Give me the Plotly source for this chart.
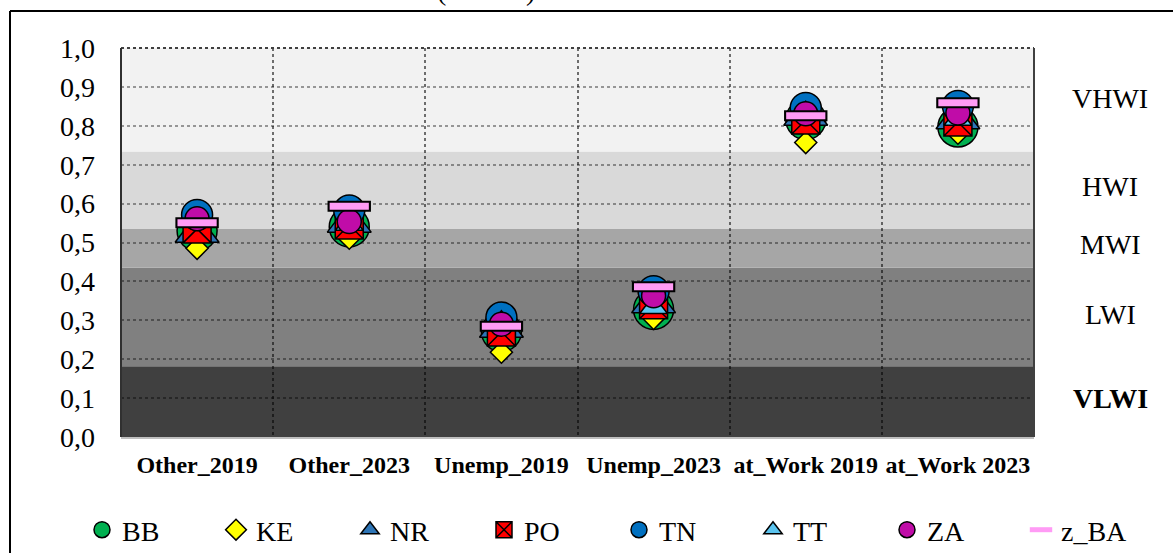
import plotly.graph_objects as go

categories = ["Other_2019", "Other_2023", "Unemp_2019", "Unemp_2023", "at_Work 2019", "at_Work 2023"]

BB = [0.530, 0.540, 0.271, 0.328, 0.816, 0.797]
KE = [0.485, 0.511, 0.218, 0.305, 0.757, 0.781]
NR = [0.525, 0.551, 0.281, 0.344, 0.826, 0.817]
PO = [0.535, 0.545, 0.270, 0.340, 0.815, 0.810]
TN = [0.571, 0.582, 0.307, 0.375, 0.846, 0.851]
TT = [0.555, 0.547, 0.294, 0.333, 0.832, 0.817]
ZA = [0.561, 0.554, 0.290, 0.363, 0.831, 0.833]
Z_BA = [0.551, 0.593, 0.285, 0.386, 0.826, 0.859]

band_edges = [0.0, 0.182, 0.435, 0.535, 0.734, 1.0]
band_labels = ["VLWI", "LWI", "MWI", "HWI", "VHWI"]
band_label_pos = [0.098, 0.314, 0.494, 0.644, 0.869]
band_colors = ["#404040", "#808080", "#a6a6a6", "#d9d9d9", "#f2f2f2"]

FONT = "Liberation Serif"

series = [
    ("BB", BB, "circle", "#00b050", 40, "legend"),
    ("KE", KE, "diamond", "#ffff00", 17, "legend"),
    ("NR", NR, "triangle-up", "#2e75b6", 38, "legend"),
    ("PO", PO, "square-x", "#ff0000", 28, "legend"),
    ("TN", TN, "circle", "#0070c0", 31, "legend2"),
    ("TT", TT, "triangle-up", "#5bc4ef", 24, "legend2"),
    ("ZA", ZA, "circle", "#c00ca8", 24, "legend2"),
]

fig = go.Figure()
for name, vals, sym, col, size, leg in series:
    fig.add_trace(go.Scatter(
        x=categories, y=vals, mode="markers", name=name, legend=leg,
        marker=dict(symbol=sym, color=col, size=size,
                    line=dict(color="black", width=1.5)),
        cliponaxis=False,
    ))

# z_BA: pink bar with black outline
fig.add_trace(go.Scatter(
    x=categories, y=Z_BA, mode="markers", name="z_BA_border", showlegend=False,
    legend="legend2",
    marker=dict(symbol="line-ew", size=31, color="black",
                line=dict(color="black", width=11)),
    cliponaxis=False,
))
fig.add_trace(go.Scatter(
    x=categories, y=Z_BA, mode="markers", name="z_BA", legend="legend2",
    marker=dict(symbol="line-ew", size=28, color="#ff9bf5",
                line=dict(color="#ff9bf5", width=7)),
    cliponaxis=False,
))

W, H = 1173, 553
L, R, T, B = 121, 139, 48, 116
pw, ph = W - L - R, H - T - B


def px2x(px):
    return (px - L) / pw


def py2y(py):
    return (H - B - py) / ph


shapes = []
for i in range(len(band_colors)):
    shapes.append(dict(type="rect", xref="paper", yref="y", x0=0, x1=1,
                       y0=band_edges[i], y1=band_edges[i + 1],
                       fillcolor=band_colors[i], line=dict(width=0), layer="below"))
# plot border
shapes.append(dict(type="line", xref="paper", yref="paper", x0=0, x1=1, y0=1, y1=1,
                   line=dict(color="#404040", width=2, dash="dot")))
shapes.append(dict(type="line", xref="paper", yref="paper", x0=1, x1=1, y0=0, y1=1,
                   line=dict(color="#404040", width=2)))
shapes.append(dict(type="line", xref="paper", yref="paper", x0=0, x1=0, y0=0, y1=1,
                   line=dict(color="#303030", width=2)))
# outer frame (left and top)
shapes.append(dict(type="line", xref="paper", yref="paper",
                   x0=px2x(10), x1=px2x(1180), y0=py2y(11), y1=py2y(11),
                   line=dict(color="black", width=2)))
shapes.append(dict(type="line", xref="paper", yref="paper",
                   x0=px2x(10), x1=px2x(10), y0=py2y(11), y1=py2y(560),
                   line=dict(color="black", width=2)))

annotations = []
for lab, yv in zip(band_labels, band_label_pos):
    annotations.append(dict(
        xref="paper", yref="y", x=px2x(1110), y=yv, text=lab, showarrow=False,
        xanchor="center", yanchor="middle",
        font=dict(family=FONT, size=28, color="black",
                  weight="bold" if lab == "VLWI" else "normal"),
    ))
# clipped title remnants (top of the original title lies outside the image)
for ch, xp in (("(", 441), (")", 530)):
    annotations.append(dict(
        xref="paper", yref="paper", x=px2x(xp), y=py2y(8), text=ch, showarrow=False,
        xanchor="center", yanchor="bottom",
        font=dict(family=FONT, size=28, color="black"),
    ))

legend_common = dict(orientation="h", xref="container", yref="container",
                     xanchor="left", yanchor="middle",
                     font=dict(family=FONT, size=28, color="black"),
                     entrywidth=89, entrywidthmode="pixels",
                     bgcolor="rgba(0,0,0,0)", itemsizing="trace", tracegroupgap=0)

fig.update_layout(
    width=W, height=H,
    margin=dict(l=L, r=R, t=T, b=B, pad=0, autoexpand=False),
    paper_bgcolor="white", plot_bgcolor="white",
    separators=",.",
    shapes=shapes, annotations=annotations,
    showlegend=True,
    legend=dict(x=82 / W, y=(H - 530) / H, **legend_common),
    legend2=dict(x=619 / W, y=(H - 530) / H, **legend_common),
    xaxis=dict(type="category", categoryorder="array", categoryarray=categories,
               range=[-0.5, 5.5], tickson="boundaries", showgrid=True,
               gridcolor="rgba(0,0,0,0.55)", griddash="dot", gridwidth=2,
               ticks="", showline=True, linecolor="#bfbfbf", linewidth=2,
               tickangle=0, automargin=False,
               tickfont=dict(family=FONT, size=24, color="black", weight="bold"),
               ticklabelstandoff=5),
    yaxis=dict(range=[0, 1], dtick=0.1, tick0=0, tickformat=".1f", showgrid=True,
               gridcolor="rgba(0,0,0,0.38)", griddash="dot", gridwidth=1.5,
               zeroline=False, ticks="", showline=False, automargin=False,
               tickfont=dict(family=FONT, size=28, color="black"),
               ticklabelstandoff=25),
)

fig.write_html("out.html", config={"displayModeBar": False},
               post_script="document.body.style.margin='0';document.body.style.overflow='hidden';")
